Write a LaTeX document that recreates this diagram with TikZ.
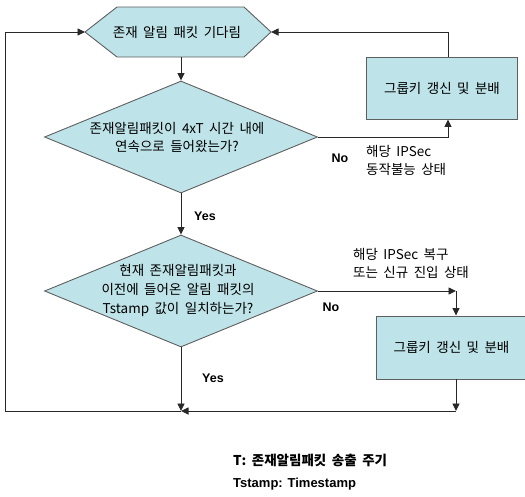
\documentclass[tikz,border=0pt]{standalone}
\usepackage{fontspec}
\setmainfont{Noto Sans CJK KR}[WordSpace=1.8]
\newfontfamily\latinb{Liberation Sans}[BoldFont={Liberation Sans Bold}]
\usetikzlibrary{arrows.meta,shapes.geometric,calc}
\definecolor{fillc}{RGB}{190,227,232}
\definecolor{edgec}{RGB}{95,95,95}
\definecolor{linec}{RGB}{40,40,40}
\begin{document}
\begin{tikzpicture}[x=1pt,y=-1pt,
  every node/.style={font=\fontsize{13.5}{18}\selectfont, inner sep=0pt},
  shapefill/.style={fill=fillc, draw=edgec, line width=0.9pt},
  dia/.style={shapefill, shape=diamond, minimum width=273pt, minimum height=112pt, inner sep=0pt},
  boxn/.style={shapefill, shape=rectangle, minimum width=151pt, minimum height=62pt},
  conn/.style={draw=linec, line width=0.9pt},
  arr/.style={conn, -{Triangle[length=7.5pt,width=7pt]}},
  lbl/.style={font=\latinb\bfseries\fontsize{12.5}{14}\selectfont},
  note/.style={align=left, anchor=west, font=\fontsize{13.5}{18}\selectfont},
  foot/.style={anchor=west, font=\bfseries\fontsize{13.5}{14}\selectfont}
]
\useasboundingbox (0,0) rectangle (525,496);

% hexagon
\coordinate (hexW) at (85,32);
\coordinate (hexE) at (271,32);
\coordinate (hexS) at (181,57);
\filldraw[shapefill] (hexW) -- (117,7) -- (244,7) -- (hexE) -- (244,57) -- (117,57) -- cycle;
\node (wait) at (177,32) {존재 알림 패킷 기다림};

% decisions
\node[dia] (d1) at (181,137) {};
\node[align=center] (t1) at (177,137) {존재알림패킷이 4xT 시간 내에\\연속으로 들어왔는가?};
\node[dia] (d2) at (181,291) {};
\node[align=center, font=\fontsize{13.5}{19}\selectfont] (t2) at (178,290) {현재 존재알림패킷과\\이전에 들어온 알림 패킷의\\Tstamp 값이 일치하는가?};

% boxes
\node[boxn] (b1) at (442,88) {그룹키 갱신 및 분배};
\node[boxn, minimum height=63pt] (b2) at (451.5,347.5) {그룹키 갱신 및 분배};

% helper coordinates
\coordinate (k1) at (448,0);
\coordinate (k2) at (456,0);
\coordinate (bot) at (181,411);
\coordinate (bl) at (5,411);
\coordinate (tl) at (5,32);

% connectors
\draw[arr] (hexS) -- (d1.north);
\draw[arr] (d1.south) -- (d2.north);
\draw[arr] (d2.south) -- (bot);
\draw[conn] (bot) -- (bl) -- (tl);
\draw[arr] (tl) -- (hexW);
\draw[arr] (d1.east) -- (k1 |- d1.east) -- (k1 |- b1.south);
\draw[arr] (k1 |- b1.north) -- (k1 |- hexE) -- (hexE);
\draw[arr] (d2.east) -- (k2 |- d2.east);
\draw[arr] (k2 |- d2.east) -- (k2 |- b2.north);
\draw[arr] (k2 |- b2.south) -- (k2 |- bot);
\draw[arr] (k2 |- bot) -- (bot);

% labels
\node[lbl] (yes1) at (205,216) {Yes};
\node[lbl] (yes2) at (213,378) {Yes};
\node[lbl] (no1) at (340,158) {No};
\node[lbl] (no2) at (331,307) {No};
\node[note] (n1) at (366,160) {해당 IPSec\\동작불능 상태};
\node[note] (n2) at (353,263) {해당 IPSec 복구\\또는 신규 진입 상태};

% footnotes
\node[foot] (f1) at (233,460) {T: 존재알림패킷 송출 주기};
\node[foot, font=\latinb\bfseries\fontsize{13}{14}\selectfont] (f2) at (233,484) {Tstamp: Timestamp};
\end{tikzpicture}
\end{document}
